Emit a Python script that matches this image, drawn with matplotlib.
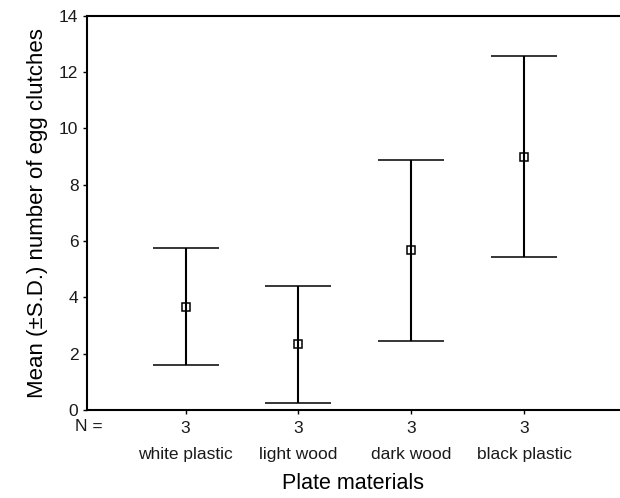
import matplotlib
matplotlib.use("Agg")
import matplotlib.pyplot as plt
import matplotlib.transforms as mtransforms
import numpy as np

# values
materials = ["white plastic", "light wood", "dark wood", "black plastic"]
n_counts = [3, 3, 3, 3]
means = [3.67, 2.33, 5.67, 9.0]
sds = [2.08, 2.08, 3.21, 3.58]

plt.rcParams["font.family"] = ["Liberation Sans", "DejaVu Sans"]
plt.rcParams["text.color"] = "#1a1a1a"

fig = plt.figure(figsize=(6.2, 4.98), dpi=100)
ax = fig.add_axes([0.140, 0.177, 0.86, 0.791])

x = np.arange(1, len(materials) + 1)
ax.errorbar(x, means, yerr=sds, fmt="s", color="black", ecolor="black",
            elinewidth=1.5, capsize=23.5, capthick=1.5, markersize=6,
            markerfacecolor="none", markeredgewidth=1.1)

ax.set_xlim(0.124, 4.85)
ax.set_ylim(0, 14)
ax.set_yticks(np.arange(0, 15, 2))
ax.tick_params(axis="y", direction="out", length=3, width=1, labelsize=12.5,
               pad=3, labelcolor="#1a1a1a")
ax.set_xticks(x)
ax.set_xticklabels([str(v) for v in n_counts])
ax.tick_params(axis="x", direction="out", length=3, width=1, labelsize=12.5,
               pad=5, labelcolor="#1a1a1a")

for s in ["top", "left", "bottom"]:
    ax.spines[s].set_linewidth(1.5)
ax.spines["right"].set_visible(False)

trans = mtransforms.blended_transform_factory(ax.transData, ax.transAxes)
for xi, name in zip(x, materials):
    ax.text(xi, -0.113, name, transform=trans, ha="center", va="center", fontsize=12.5)
ax.text(-0.022, -0.041, "N =", transform=ax.transAxes, ha="left", va="center", fontsize=12.5)

ax.set_xlabel("Plate materials", fontsize=15.5, labelpad=27)
ax.set_ylabel("Mean (\u00b1S.D.) number of egg clutches", fontsize=16, labelpad=8)

fig.savefig("out.png", dpi=100)
